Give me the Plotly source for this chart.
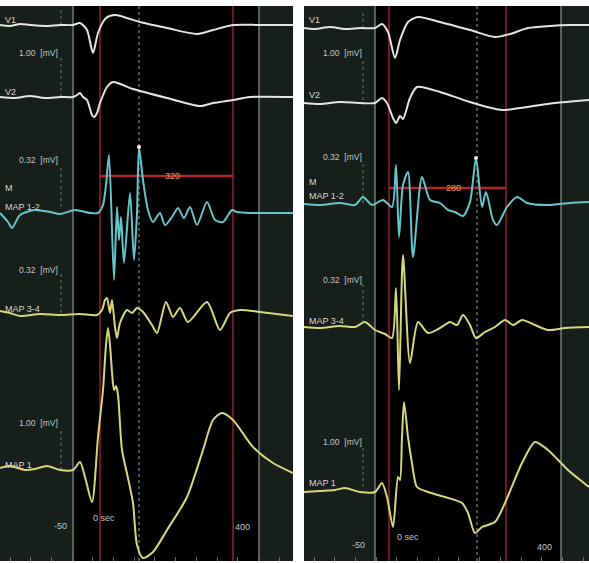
import plotly.graph_objects as go

# ---------------- data (x: sample position, d: deflection, up = positive) ----------------
# Left panel
L_v1_x = [0, 10, 20, 30, 45, 60, 73, 80, 87, 93, 98, 106, 115, 140, 167, 197, 213, 233, 260, 293]
L_v1_d = [0, -1, 1, 0, -1, 0, 0, 2, -5, -28, -8, 7, 10, 3, -3, -9, -5, 0, 0, 0]

L_v2_x = [0, 15, 30, 45, 60, 73, 77, 80, 83, 87, 92, 94, 97, 100, 107, 113, 133, 167, 200, 213, 233, 250, 293]
L_v2_d = [0, -1, 1, -1, 0, 0, 2, 4, 0, -3, -18, -20, -16, -6, 10, 15, 8, -1, -9, -6, -3, 0, 0]

L_m12_x = [0, 8, 12, 20, 35, 50, 60, 75, 90, 98, 103, 106, 109, 114, 117, 119, 121, 124, 130, 134, 137,
           139, 143, 148, 153, 160, 165, 172, 178, 184, 190, 197, 207, 215, 223, 232, 237, 250, 267, 293]
L_m12_d = [0, -9, -15, -2, 3, 1, -1, 3, 0, 0, 8, 28, 58, -67, 6, -27, -4, -50, 20, -47, 0,
           66, 33, 3, -9, 0, -12, -4, 5, -5, 6, -12, 11, -7, -9, 3, 1, 0, 0, 0]

L_m34_x = [0, 10, 20, 40, 60, 80, 97, 102, 105, 107, 110, 112, 115, 117, 120, 127, 132, 137, 143, 152,
           157, 166, 173, 180, 188, 207, 220, 230, 240, 260, 293]
L_m34_d = [3, 1, -2, 0, -1, 0, -1, 4, 14, 16, 1, 14, -13, -24, -9, 4, 1, 6, 2, -11,
           -19, 12, -3, 6, -8, 12, -16, 1, 4, 2, -2]

L_m1_x = [0, 10, 25, 35, 47, 60, 73, 80, 85, 92, 98, 103, 106, 108, 110, 112, 114, 116, 118, 122, 128,
          133, 137, 143, 153, 167, 187, 203, 213, 222, 233, 253, 273, 293]
L_m1_d = [2, 4, 0, 1, 4, 0, 0, 8, -7, -32, 33, 80, 125, 142, 125, 98, 80, 84, 75, 20, -8,
          -33, -75, -88, -82, -60, -27, 20, 50, 57, 50, 23, 7, -3]

# Right panel
R_v1_x = [304, 315, 330, 345, 360, 375, 382, 388, 395, 400, 408, 418, 440, 470, 495, 510, 528, 550, 570, 589]
R_v1_d = [0, -1, 1, -1, 0, 0, 4, -4, -30, -12, 6, 11, 6, -2, -9, -6, 0, 2, 3, 3]

R_v2_x = [304, 320, 340, 360, 375, 382, 387, 393, 396, 400, 403, 410, 417, 440, 470, 502, 520, 540, 555, 589]
R_v2_d = [0, -1, 1, 0, 0, 5, 0, -15, -20, -13, -16, 5, 16, 11, 1, -7, -5, -2, 0, 3]

R_m12_x = [304, 320, 340, 355, 363, 372, 383, 392, 396, 399, 403, 408, 413, 422, 430, 440, 448, 455, 463,
           470, 476, 482, 486, 493, 497, 507, 517, 527, 547, 570, 589]
R_m12_d = [0, -1, 1, -1, 7, -1, 4, -3, 39, -33, 19, 32, -53, 27, 4, 1, -6, -8, -12,
           2, 46, -3, 12, -16, -21, -3, 7, 1, -1, 1, 2]

R_m34_x = [304, 320, 340, 355, 365, 375, 385, 392, 396, 399, 403, 410, 418, 428, 440, 450, 457, 463, 470,
           476, 485, 495, 505, 513, 522, 535, 548, 565, 589]
R_m34_d = [0, -1, 1, 0, 5, -3, -7, -11, 39, -63, 72, -36, 5, -6, -1, 5, 2, 12, 2,
           -11, -5, 0, 7, 2, 7, 2, -3, -1, 0]

R_m1_x = [304, 320, 335, 345, 360, 375, 382, 387, 393, 398, 400, 402, 404, 408, 412, 417, 428, 445, 462,
          468, 475, 482, 495, 505, 522, 535, 548, 568, 589]
R_m1_d = [0, 1, 2, 4, 0, 0, 9, -5, -35, 15, 12, 55, 90, 55, 29, 5, 0, -5, -11,
          -21, -41, -35, -30, -11, 29, 50, 42, 22, 5]

channel_names = ["V1", "V2", "MAP 1-2", "MAP 3-4", "MAP 1"]
scale_labels = ["1.00  [mV]", "0.32  [mV]", "0.32  [mV]", "1.00  [mV]"]
interval_left = "320"
interval_right = "280"
time_labels = ["-50", "0 sec", "400"]

# ---------------- layout helpers ----------------
W, Hh = 589, 563
TOP, BOT = 6, 561


def H(ypx):
    return BOT - ypx


WHITE = "#e4e4e4"
CYAN = "#66c4cc"
YELLOW = "#d8d67c"
TXT = "#c4c4c4"
BG = "#161f19"

panels = [
    dict(xa="x", ya="y", x0=0, x1=293, wl=(73, 259), red=(100, 233), dash=139, bar_y=176,
         interval=interval_left, scale_x=61,
         base=[25, 97, 213, 314, 470],
         traces=[(L_v1_x, L_v1_d, WHITE), (L_v2_x, L_v2_d, WHITE), (L_m12_x, L_m12_d, CYAN),
                 (L_m34_x, L_m34_d, YELLOW), (L_m1_x, L_m1_d, YELLOW)],
         name_y=[20, 92, 207, 309, 465], m_y=188, scale_y=[53, 160, 270, 423],
         scale_bars=[(7, 25), (57, 97), (165, 207), (273, 313), (430, 470)],
         tl=[(52, 526), (91, 518), (233, 527)], lx=3, sx=17),
    dict(xa="x2", ya="y2", x0=304, x1=589, wl=(375, 561), red=(389, 506), dash=477, bar_y=188,
         interval=interval_right, scale_x=363,
         base=[28, 103, 204, 327, 492],
         traces=[(R_v1_x, R_v1_d, WHITE), (R_v2_x, R_v2_d, WHITE), (R_m12_x, R_m12_d, CYAN),
                 (R_m34_x, R_m34_d, YELLOW), (R_m1_x, R_m1_d, YELLOW)],
         name_y=[20, 95, 196, 321, 483], m_y=182, scale_y=[53, 157, 280, 442],
         scale_bars=[(10, 28), (60, 100), (163, 203), (283, 323), (445, 487)],
         tl=[(350, 545), (395, 537), (535, 547)], lx=307, sx=321),
]

fig = go.Figure()
shapes = []
annotations = []

for p in panels:
    xa, ya = p["xa"], p["ya"]
    # black inner window
    shapes.append(dict(type="rect", xref=xa, yref=ya, x0=p["wl"][0], x1=p["wl"][1], y0=H(BOT), y1=H(TOP),
                       fillcolor="#000000", line=dict(width=0), layer="below"))
    for xv in p["wl"]:
        shapes.append(dict(type="line", xref=xa, yref=ya, x0=xv, x1=xv, y0=H(BOT), y1=H(TOP),
                           line=dict(color="#8e948e", width=1.2), layer="below"))
    for xv in p["red"]:
        shapes.append(dict(type="line", xref=xa, yref=ya, x0=xv, x1=xv, y0=H(BOT), y1=H(TOP),
                           line=dict(color="#8a1f28", width=1.6), layer="below"))
    shapes.append(dict(type="line", xref=xa, yref=ya, x0=p["dash"], x1=p["dash"], y0=H(BOT), y1=H(TOP),
                       line=dict(color="#9c9c9c", width=1, dash="3px,3px"), layer="below"))
    shapes.append(dict(type="line", xref=xa, yref=ya, x0=p["red"][0], x1=p["red"][1],
                       y0=H(p["bar_y"]), y1=H(p["bar_y"]),
                       line=dict(color="#b3242b", width=2.5), layer="below"))
    for (a, b) in p["scale_bars"]:
        shapes.append(dict(type="line", xref=xa, yref=ya, x0=p["scale_x"], x1=p["scale_x"], y0=H(b), y1=H(a),
                           line=dict(color="#5f7f64", width=1, dash="dot"), layer="below"))

    # traces
    for (xs, ds, col), b in zip(p["traces"], p["base"]):
        fig.add_trace(go.Scatter(x=xs, y=[H(b) + d for d in ds], mode="lines", xaxis=xa, yaxis=ya,
                                 line=dict(color=col, width=2, shape="spline", smoothing=0.7),
                                 hoverinfo="skip", showlegend=False))
    # peak marker on MAP 1-2
    xs, ds, _ = p["traces"][2]
    k = ds.index(max(ds))
    fig.add_trace(go.Scatter(x=[xs[k]], y=[H(p["base"][2]) + ds[k]], mode="markers", xaxis=xa, yaxis=ya,
                             marker=dict(color="#f4f4d8", size=4), hoverinfo="skip", showlegend=False))

    # labels
    for name, yy in zip(channel_names, p["name_y"]):
        annotations.append(dict(xref=xa, yref=ya, x=p["lx"], y=H(yy), text=name, showarrow=False,
                                xanchor="left", yanchor="middle",
                                font=dict(family="Liberation Sans", size=9, color="#d6d6d6")))
    annotations.append(dict(xref=xa, yref=ya, x=p["lx"], y=H(p["m_y"]), text="M", showarrow=False,
                            xanchor="left", yanchor="middle",
                            font=dict(family="Liberation Sans", size=9, color="#d6d6d6")))
    for s, yy in zip(scale_labels, p["scale_y"]):
        annotations.append(dict(xref=xa, yref=ya, x=p["sx"], y=H(yy), text=s, showarrow=False,
                                xanchor="left", yanchor="middle",
                                font=dict(family="Liberation Sans", size=8.5, color=TXT)))
    annotations.append(dict(xref=xa, yref=ya, x=(p["red"][0] + p["red"][1]) / 2 + 6, y=H(p["bar_y"]),
                            text=p["interval"], showarrow=False, xanchor="center", yanchor="middle",
                            font=dict(family="Liberation Sans", size=9, color="#e8a24c")))
    for t, (xx, yy) in zip(time_labels, p["tl"]):
        annotations.append(dict(xref=xa, yref=ya, x=xx, y=H(yy), text=t, showarrow=False,
                                xanchor="left", yanchor="middle",
                                font=dict(family="Liberation Sans", size=9, color=TXT)))

axis_common = dict(showgrid=False, zeroline=False, showline=False, showticklabels=False)
fig.update_layout(
    width=W, height=Hh, margin=dict(l=0, r=0, t=0, b=0),
    paper_bgcolor="#ffffff", plot_bgcolor=BG,
    xaxis=dict(domain=[0, 293 / W], range=[0, 293], ticks="inside", tick0=10, dtick=20.7,
               ticklen=4, tickcolor="#6e6e6e", **axis_common),
    yaxis=dict(domain=[(Hh - BOT) / Hh, (Hh - TOP) / Hh], range=[0, BOT - TOP], **axis_common),
    xaxis2=dict(domain=[304 / W, 1], range=[304, 589], anchor="y2", ticks="inside", tick0=314, dtick=20.7,
                ticklen=4, tickcolor="#6e6e6e", **axis_common),
    yaxis2=dict(domain=[(Hh - BOT) / Hh, (Hh - TOP) / Hh], range=[0, BOT - TOP], anchor="x2", **axis_common),
    shapes=shapes, annotations=annotations,
)

fig.write_html("out.html", config={"displayModeBar": False},
               post_script="document.body.style.margin='0px';document.body.style.overflow='hidden';")
